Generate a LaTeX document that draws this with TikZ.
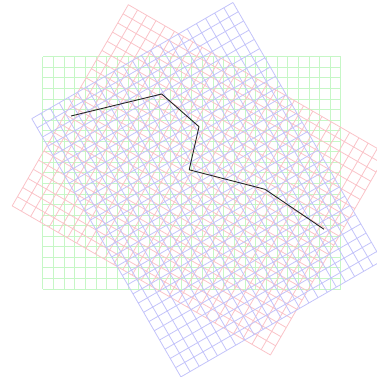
\documentclass[tikz,border=0pt]{standalone}
\usetikzlibrary{calc}
\definecolor{sheetGreen}{HTML}{C6F7C6}
\definecolor{sheetRed}  {HTML}{FAC3C8}
\definecolor{sheetBlue} {HTML}{C3C3FA}
\begin{document}
\begin{tikzpicture}[
    x=10.65pt, y=10.56pt,
    sheet/.style = {line width=0.8pt, step=1},
    walk/.style  = {draw=black!85, line width=0.9pt, line join=round},
  ]

  %% frame of the picture (green sheet's lower left corner is the origin)
  \clip (-42.7pt,-88pt) rectangle (334.3pt,289pt);

  %% green sheet, not turned
  \draw[sheet, draw=sheetGreen] (0,0) grid (28,22);

  %% red sheet, turned 30 degrees clockwise
  \begin{scope}[rotate around={-30:(13.13,9.33)}]
    \draw[sheet, draw=sheetRed] (0,0) grid (28,22);
  \end{scope}

  %% blue sheet, turned 60 degrees clockwise and nudged right
  \begin{scope}[shift={(4.5pt,0pt)}, rotate around={-60:(13.13,9.33)}]
    \draw[sheet, draw=sheetBlue] (0,0) grid (28,22);
  \end{scope}

  %% the black path
  \coordinate (w0) at ( 28.3pt,173.0pt);
  \coordinate (w1) at (119.0pt,195.0pt);
  \coordinate (w2) at (156.3pt,162.3pt);
  \coordinate (w3) at (146.5pt,119.2pt);
  \coordinate (w4) at (222.3pt, 99.7pt);
  \coordinate (w5) at (281.3pt, 59.7pt);
  \draw[walk] (w0) -- (w1) -- (w2) -- (w3) -- (w4) -- (w5);

\end{tikzpicture}
\end{document}
